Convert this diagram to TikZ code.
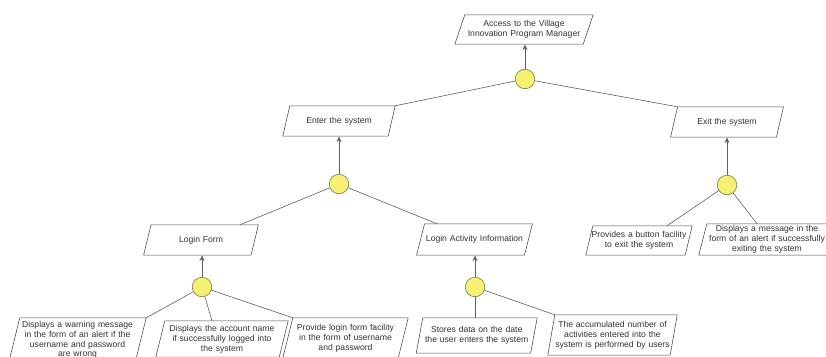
\documentclass[tikz,border=0pt]{standalone}
\usepackage{fontspec}
\setmainfont{Liberation Sans}
\usetikzlibrary{arrows.meta}
\definecolor{linegray}{RGB}{95,95,95}
\definecolor{boxgray}{RGB}{70,70,70}
\definecolor{txtgray}{RGB}{50,50,50}
\definecolor{ballfill}{RGB}{245,242,115}
\definecolor{balledge}{RGB}{120,120,80}
\tikzset{
  para/.style n args={3}{rectangle, draw=none, minimum width=#1, minimum height=#2, text width=#1, align=center, inner sep=0pt, font=\fontsize{8.6}{9.8}\selectfont, text=txtgray},
  ball/.style={circle, draw=balledge, fill=ballfill, minimum size=19.5, inner sep=0pt, line width=0.6pt},
  conn/.style={draw=linegray, line width=0.6pt},
  arr/.style={conn, -{Stealth[length=5.5pt,width=5pt]}, shorten >=0.3pt},
  outline/.style={draw=boxgray, line width=0.55pt},
}
\newcommand{\paraoutline}[2]{\draw[outline] ([xshift=#2]#1.north west) -- ([xshift=#2]#1.north east) -- ([xshift=-#2]#1.south east) -- ([xshift=-#2]#1.south west) -- cycle;}
\begin{document}
\begin{tikzpicture}[x=1pt,y=-1pt]
\useasboundingbox (0,0) rectangle (826,356);
% nodes
\node[para={128}{29}{}] (top) at (524,29.5) {Access to the Village\\Innovation Program Manager};
\node[para={105}{30}{}] (enter) at (339,121) {Enter the system};
\node[para={105.5}{30}{}] (exit) at (727,122) {Exit the system};
\node[para={107}{30}{}] (lf) at (201,240) {Login Form};
\node[para={107.5}{31}{}] (lai) at (474.5,239.5) {Login Activity Information};
\node[para={99}{29}{}] (prov) at (639,240.5) {Provides a button facility\\to exit the system};
\node[para={128}{31}{}] (emsg) at (767,239.5) {Displays a message in the\\form of an alert if successfully\\exiting the system};
\node[para={126}{44}{}] (warn) at (77.5,340) {Displays a warning message\\in the form of an alert if the\\username and password\\are wrong};
\node[para={123}{36}{}] (acct) at (222,339) {Displays the account name\\if successfully logged into\\the system};
\node[para={115}{40}{}] (plf) at (345.5,338) {Provide login form facility\\in the form of username\\and password};
\node[para={114}{35}{}] (store) at (476.7,335.5) {Stores data on the date\\the user enters the system};
\node[para={122}{40}{}] (accum) at (612.5,335) {The accumulated number of\\activities entered into the\\system is performed by users};
% outlines
\paraoutline{top}{5}
\paraoutline{enter}{3.5}
\paraoutline{exit}{3.5}
\paraoutline{lf}{3.7}
\paraoutline{lai}{4}
\paraoutline{prov}{3.5}
\paraoutline{emsg}{4}
\paraoutline{warn}{5.5}
\paraoutline{acct}{4.5}
\paraoutline{plf}{5}
\paraoutline{store}{3.3}
\paraoutline{accum}{3.5}
% junction balls
\node[ball] (c0) at (525,79) {};
\node[ball] (c1) at (339,184) {};
\node[ball] (c2) at (727,185) {};
\node[ball] (c3) at (202,287) {};
\node[ball] (c4) at (475,287) {};
% arrows up
\draw[arr] (c0) -- (c0 |- top.south);
\draw[arr] (c1) -- (c1 |- enter.south);
\draw[arr] (c2) -- (c2 |- exit.south);
\draw[arr] (c3) -- (c3 |- lf.south);
\draw[arr] (c4) -- (c4 |- lai.south);
% connectors
\draw[conn] (c0) -- ([xshift=3.5]enter.north east);
\draw[conn] (c0) -- ([xshift=3.5]exit.north west);
\draw[conn] (c1) -- ([xshift=39]lf.north);
\draw[conn] (c1) -- ([xshift=-37.5]lai.north);
\draw[conn] (c2) -- ([xshift=28]prov.north);
\draw[conn] (c2) -- ([xshift=-10]emsg.north);
\draw[conn] (c3) -- ([xshift=5.5]warn.north east);
\draw[conn] (c3) -- ([xshift=-10]acct.north);
\draw[conn] (c3) -- ([xshift=5]plf.north west);
\draw[conn] (c4) -- (c4 |- store.north);
\draw[conn] (c4) -- ([xshift=3.5]accum.north west);
\end{tikzpicture}
\end{document}
